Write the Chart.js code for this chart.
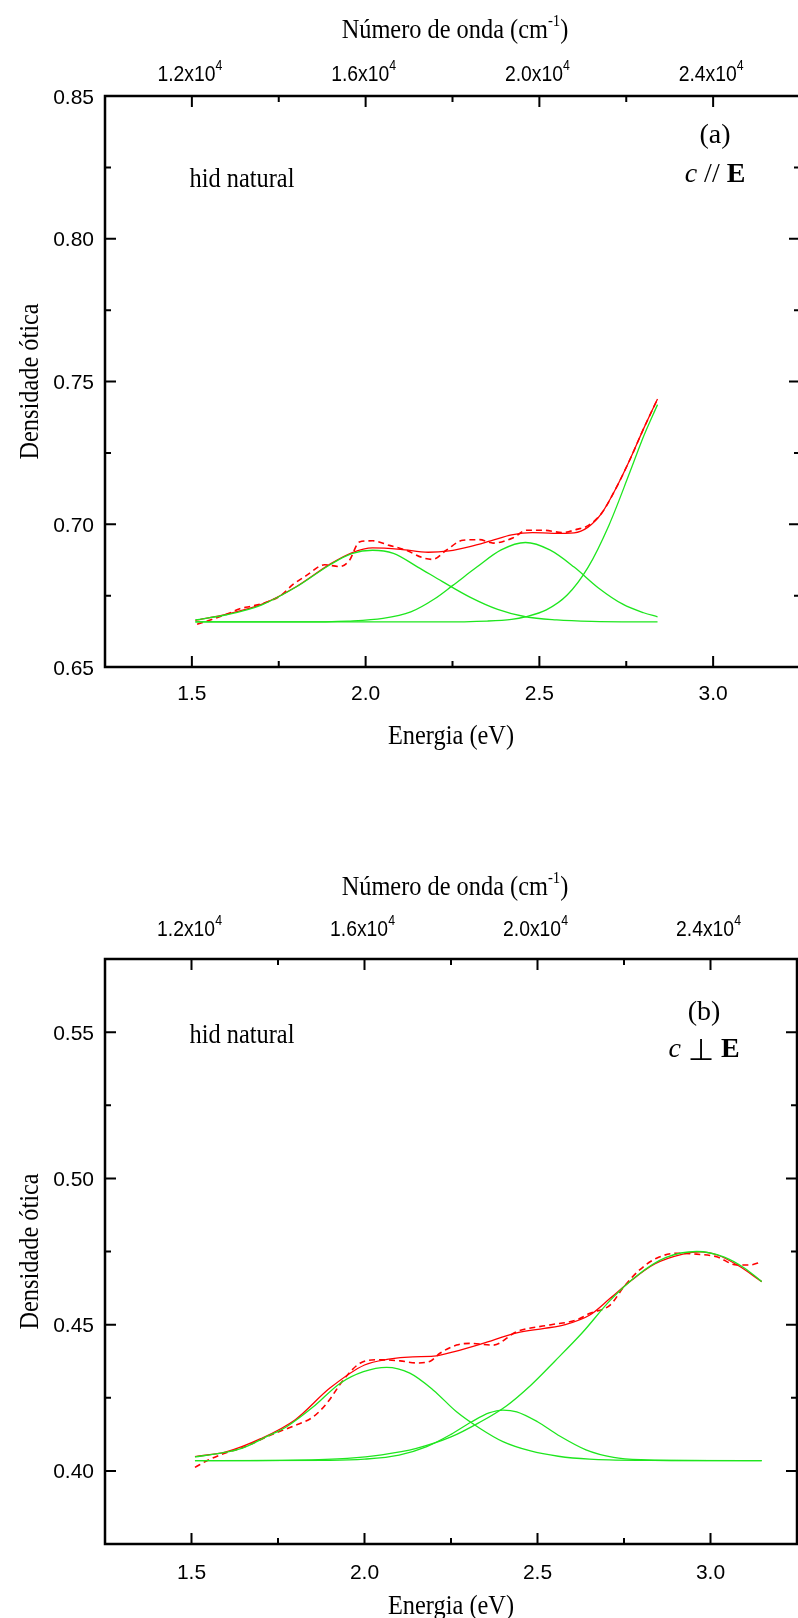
<!DOCTYPE html>
<html>
<head>
<meta charset="utf-8">
<script src="https://cdn.jsdelivr.net/npm/chart.js@4.4.1/dist/chart.umd.min.js"></script>
<style>
html,body{margin:0;padding:0;background:#fff;overflow:hidden;width:798px;height:1618px}
.panel{position:absolute;left:0}
#pa{top:0}
#pb{top:800px}
</style>
</head>
<body>
<div class="panel" id="pa"><canvas id="ca" width="804" height="800"></canvas></div>
<div class="panel" id="pb"><canvas id="cb" width="804" height="818"></canvas></div>
<script>
// labelled ticks: energy (bottom), wavenumber (top), optical density (left)
const E_TICKS = [1.5, 2.0, 2.5, 3.0];
const WN_TICKS = [12000, 16000, 20000, 24000];
const A_YTICKS = [0.65, 0.70, 0.75, 0.80, 0.85];
const B_YTICKS = [0.40, 0.45, 0.50, 0.55];

// (a) c // E  -- [energy eV, optical density]
const A_DATA = [[1.515,0.6650],[1.561,0.6668],[1.609,0.6689],[1.638,0.6704],[1.676,0.6714],[1.714,0.6727],
  [1.752,0.6747],[1.791,0.6789],[1.829,0.6820],[1.882,0.6858],[1.925,0.6852],[1.953,0.6873],[1.982,0.6938],
  [2.020,0.6942],[2.068,0.6926],[2.116,0.6909],[2.164,0.6883],[2.193,0.6877],[2.232,0.6909],[2.280,0.6944],
  [2.328,0.6946],[2.367,0.6934],[2.425,0.6953],[2.463,0.6979],[2.511,0.6979],[2.568,0.6971],[2.607,0.6982],
  [2.640,0.6995],[2.680,0.7040],[2.720,0.7125],[2.760,0.7225],[2.800,0.7335],[2.840,0.7439]];
const A_FIT = [[1.51,0.6663],[1.60,0.6685],[1.70,0.6719],[1.80,0.6781],[1.90,0.6862],[1.96,0.6900],[2.02,0.6917],
  [2.10,0.6912],[2.18,0.6902],[2.24,0.6907],[2.30,0.6922],[2.36,0.6942],[2.42,0.6963],[2.48,0.6971],[2.54,0.6968],
  [2.60,0.6970],[2.64,0.6990],[2.68,0.7040],[2.72,0.7125],[2.76,0.7225],[2.80,0.7335],[2.84,0.7439]];
const A_G1 = [[1.51,0.6665],[1.60,0.6683],[1.70,0.6717],[1.80,0.6780],[1.90,0.6860],[1.96,0.6897],[2.02,0.6909],
  [2.08,0.6898],[2.15,0.6850],[2.22,0.6800],[2.30,0.6745],[2.38,0.6702],[2.46,0.6676],[2.55,0.6665],[2.65,0.6660],[2.84,0.6658]];
const A_G2 = [[1.51,0.6658],[1.80,0.6658],[1.95,0.6661],[2.05,0.6670],[2.13,0.6693],[2.20,0.6740],[2.25,0.6785],
  [2.32,0.6850],[2.39,0.6910],[2.46,0.6936],[2.53,0.6910],[2.60,0.6850],[2.67,0.6777],[2.74,0.6720],[2.80,0.6690],[2.84,0.6676]];
const A_G3 = [[1.51,0.6658],[2.20,0.6658],[2.35,0.6661],[2.42,0.6667],[2.46,0.6676],[2.52,0.6700],[2.58,0.6752],
  [2.64,0.6849],[2.70,0.6996],[2.76,0.7181],[2.80,0.7308],[2.84,0.7419]];

// (b) c ⊥ E
const B_DATA = [[1.51,0.4012],[1.55,0.4038],[1.60,0.4062],[1.645,0.4078],[1.688,0.4100],[1.74,0.4128],[1.794,0.4153],
  [1.852,0.4185],[1.891,0.4231],[1.939,0.4311],[1.987,0.4368],[2.04,0.4380],[2.103,0.4376],[2.151,0.4369],[2.19,0.4375],
  [2.218,0.4402],[2.266,0.4430],[2.305,0.4436],[2.372,0.4430],[2.44,0.4476],[2.536,0.4499],[2.613,0.4516],[2.652,0.4539],
  [2.71,0.4567],[2.75,0.4630],[2.795,0.4687],[2.844,0.4727],[2.902,0.4744],[2.96,0.4741],[3.018,0.4732],[3.076,0.4704],
  [3.114,0.4704],[3.148,0.4715]];
const B_FIT = [[1.51,0.4049],[1.60,0.4065],[1.70,0.4110],[1.80,0.4175],[1.90,0.4283],[2.00,0.4362],[2.07,0.4382],
  [2.14,0.4390],[2.20,0.4392],[2.26,0.4408],[2.34,0.4435],[2.44,0.4472],[2.52,0.4487],[2.58,0.4500],[2.65,0.4532],
  [2.71,0.4590],[2.77,0.4650],[2.84,0.4708],[2.92,0.4741],[2.97,0.4749],[3.02,0.4738],[3.08,0.4702],[3.148,0.4647]];
const B_G1 = [[1.51,0.4048],[1.58,0.4060],[1.645,0.4077],[1.717,0.4117],[1.775,0.4151],[1.852,0.4219],[1.929,0.4299],
  [1.997,0.4339],[2.064,0.4354],[2.131,0.4334],[2.199,0.4276],[2.266,0.4202],[2.334,0.4145],[2.40,0.4100],[2.48,0.4068],
  [2.56,0.4050],[2.65,0.4040],[2.80,0.4036],[3.148,0.4035]];
const B_G2 = [[1.51,0.4035],[1.90,0.4036],[2.00,0.4040],[2.10,0.4054],[2.18,0.4083],[2.25,0.4125],[2.31,0.4168],
  [2.36,0.4198],[2.40,0.4208],[2.44,0.4202],[2.50,0.4168],[2.56,0.4122],[2.64,0.4072],[2.72,0.4046],[2.80,0.4038],
  [3.00,0.4035],[3.148,0.4035]];
const B_G3 = [[1.51,0.4035],[1.80,0.4037],[1.95,0.4043],[2.05,0.4055],[2.15,0.4077],[2.25,0.4116],[2.33,0.4164],
  [2.41,0.4222],[2.48,0.4292],[2.55,0.4375],[2.63,0.4473],[2.71,0.4583],[2.79,0.4670],[2.87,0.4729],[2.96,0.4750],
  [3.04,0.4731],[3.10,0.4692],[3.148,0.4647]];

const RED = '#ff0000', GREEN = '#1ee61e', INK = '#000';
const SANS = '"Liberation Sans", Arial, sans-serif';
const SERIF = '"Liberation Serif", "Times New Roman", serif';
const has = (list, v) => list.some(t => Math.abs(t - v) < 1e-6);
const pts = arr => arr.map(([x, y]) => ({x, y}));

// draws runs of differently styled text on one baseline: parts = [text, font, dy]
function rich(ctx, parts, x, y, align, sx) {
  ctx.save();
  ctx.fillStyle = INK;
  ctx.textBaseline = 'alphabetic';
  ctx.textAlign = 'left';
  let w = 0;
  parts.forEach(p => { ctx.font = p[1]; w += ctx.measureText(p[0]).width; });
  ctx.translate(x, y);
  ctx.scale(sx || 1, 1);
  let cx = align === 'center' ? -w / 2 : align === 'right' ? -w : 0;
  parts.forEach(p => { ctx.font = p[1]; ctx.fillText(p[0], cx, p[2] || 0); cx += ctx.measureText(p[0]).width; });
  ctx.restore();
}

// frame, inward ticks and all axis text
const axesDeco = {
  id: 'axesDeco',
  afterDatasetsDraw(chart, _a, o) {
    const {ctx, chartArea: a} = chart;
    const {x, y, x2} = chart.scales;
    ctx.save();
    ctx.strokeStyle = INK;
    ctx.lineWidth = 2;
    ctx.beginPath();
    x.ticks.forEach(t => {
      const p = x.getPixelForValue(t.value), L = has(E_TICKS, t.value) ? 11 : 6;
      ctx.moveTo(p, a.bottom); ctx.lineTo(p, a.bottom - L);
    });
    x2.ticks.forEach(t => {
      const p = x2.getPixelForValue(t.value), L = has(WN_TICKS, t.value) ? 11 : 6;
      ctx.moveTo(p, a.top); ctx.lineTo(p, a.top + L);
    });
    y.ticks.forEach(t => {
      const p = y.getPixelForValue(t.value), L = has(o.yLabels, t.value) ? 11 : 6;
      ctx.moveTo(a.left, p); ctx.lineTo(a.left + L, p);
      ctx.moveTo(a.right, p); ctx.lineTo(a.right - L, p);
    });
    ctx.stroke();
    ctx.lineWidth = 2.5;
    ctx.strokeRect(a.left, a.top, a.right - a.left, a.bottom - a.top);
    ctx.restore();

    const num = '21px ' + SANS, top = '22px ' + SANS, sup = '14px ' + SANS, ser = '28px ' + SERIF;
    x.ticks.forEach(t => {
      if (has(E_TICKS, t.value)) rich(ctx, [[t.value.toFixed(1), num]], x.getPixelForValue(t.value), o.bottomTickY, 'center');
    });
    x2.ticks.forEach(t => {
      if (has(WN_TICKS, t.value))
        rich(ctx, [[(t.value / 10000).toFixed(1) + 'x10', top], ['4', sup, -11]], x2.getPixelForValue(t.value) - 2, o.topTickY, 'center', 0.88);
    });
    y.ticks.forEach(t => {
      if (has(o.yLabels, t.value)) rich(ctx, [[t.value.toFixed(2), num]], a.left - 11, y.getPixelForValue(t.value) + 7.5, 'right');
    });
    rich(ctx, [['Número de onda (cm', ser], ['-1', '17px ' + SERIF, -12], [')', ser]], 455, o.titleY, 'center', 0.87);
    rich(ctx, [['Energia (eV)', ser]], 451, o.xTitleY, 'center', 0.87);
    rich(ctx, [['hid natural', ser]], 242, o.noteY, 'center', 0.87);

    ctx.save();
    ctx.translate(38, (a.top + a.bottom) / 2);
    ctx.rotate(-Math.PI / 2);
    rich(ctx, [['Densidade ótica', ser]], 0, 0, 'center', 0.87);
    ctx.restore();

    rich(ctx, [[o.tag, ser]], o.tagX, o.tagY, 'center');
    rich(ctx, o.pol, o.tagX, o.polY, 'center');
  }
};

function curves(g1, g2, g3, fit, data) {
  const g = d => ({data: pts(d), borderColor: GREEN, borderWidth: 1.3, pointRadius: 0, cubicInterpolationMode: 'monotone'});
  return [g(g1), g(g2), g(g3),
    {data: pts(fit), borderColor: RED, borderWidth: 1.3, pointRadius: 0, cubicInterpolationMode: 'monotone'},
    {data: pts(data), borderColor: RED, borderWidth: 1.6, borderDash: [6, 4], pointRadius: 0, cubicInterpolationMode: 'monotone'}];
}

function panel(id, p) {
  const fix = k => (s => { s[k] = p[k === 'width' ? 'leftW' : s.position === 'top' ? 'topH' : 'bottomH']; });
  new Chart(document.getElementById(id), {
    type: 'line',
    data: {datasets: p.datasets},
    options: {
      responsive: false, animation: false, events: [],
      layout: {padding: {left: 0, right: p.rightPad, top: 0, bottom: 0}},
      plugins: {legend: {display: false}, tooltip: {enabled: false}, axesDeco: p.deco},
      scales: {
        x: {type: 'linear', position: 'bottom', min: 1.25, max: 3.25, ticks: {stepSize: 0.25, display: false},
            grid: {display: false}, border: {display: false}, afterFit: fix('height')},
        x2: {type: 'linear', axis: 'x', position: 'top', min: 10000, max: 26000, ticks: {stepSize: 2000, display: false},
            grid: {display: false}, border: {display: false}, afterFit: fix('height')},
        y: {type: 'linear', position: 'left', min: p.ymin, max: p.ymax, ticks: {stepSize: 0.025, display: false},
            grid: {display: false}, border: {display: false}, afterFit: fix('width')}
      }
    },
    plugins: [axesDeco]
  });
}

const bold = '700 28px ' + SERIF, ital = 'italic 28px ' + SERIF, reg = '28px ' + SERIF;

panel('ca', {
  datasets: curves(A_G1, A_G2, A_G3, A_FIT, A_DATA),
  ymin: 0.65, ymax: 0.85, leftW: 105, topH: 96, bottomH: 133, rightPad: 4,
  deco: {yLabels: A_YTICKS, titleY: 38, topTickY: 81, bottomTickY: 699.5, xTitleY: 744, noteY: 187,
         tag: '(a)', tagX: 715, tagY: 143, polY: 182, pol: [['c', ital], [' // ', reg], ['E', bold]]}
});

panel('cb', {
  datasets: curves(B_G1, B_G2, B_G3, B_FIT, B_DATA),
  ymin: 0.375, ymax: 0.575, leftW: 105, topH: 159, bottomH: 74, rightPad: 7,
  deco: {yLabels: B_YTICKS, titleY: 95, topTickY: 136, bottomTickY: 778.5, xTitleY: 814, noteY: 243,
         tag: '(b)', tagX: 704, tagY: 220, polY: 257, pol: [['c', ital], [' ', reg], ['⊥', '30px "DejaVu Sans"', 3], [' ', reg], ['E', bold]]}
});
</script>
</body>
</html>
